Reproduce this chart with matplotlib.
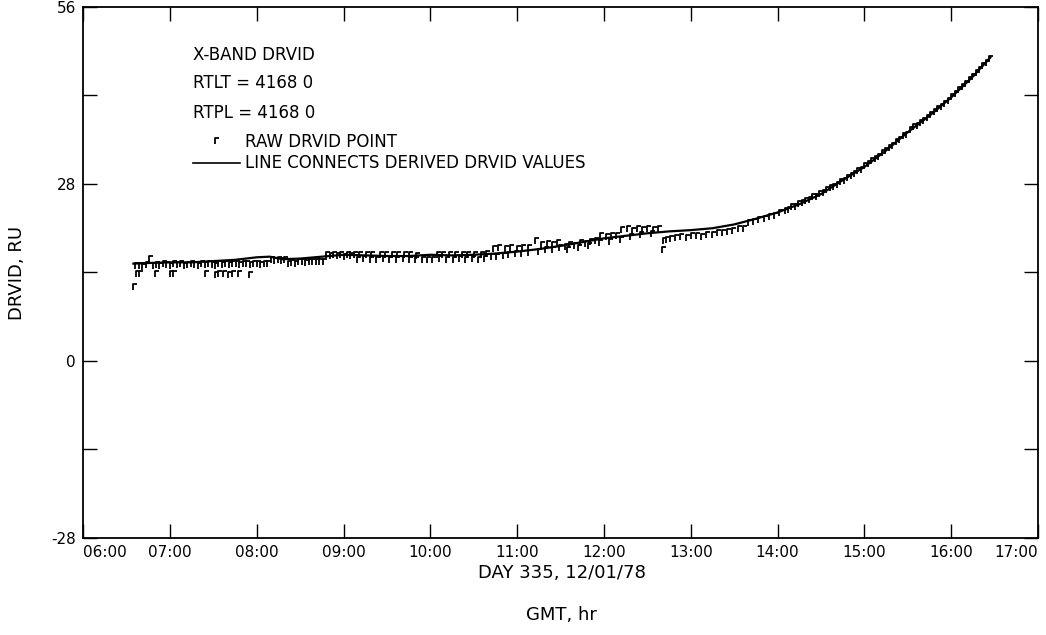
"""
X-band DRVID, day 335 (12/01/78)
"""
import matplotlib
matplotlib.use('Agg')
import matplotlib.pyplot as plt
from matplotlib.path import Path
import numpy as np

# derived DRVID line (GMT hours, RU)
line_hours = [6.58, 6.75, 7.00, 7.25, 7.50, 7.75, 8.00, 8.15, 8.30, 8.50, 8.75,
              9.00, 9.25, 9.50, 9.75, 10.00, 10.25, 10.50, 10.75, 11.00, 11.25,
              11.50, 11.75, 12.00, 12.25, 12.50, 12.75, 13.00, 13.25, 13.50,
              13.75, 14.00, 14.25, 14.50, 14.75, 15.00, 15.25, 15.50, 15.75,
              16.00, 16.25, 16.45]
line_drvid = [15.4, 15.5, 15.6, 15.6, 15.8, 16.0, 16.4, 16.5, 16.1, 16.2, 16.5,
              16.8, 16.7, 16.6, 16.6, 16.8, 16.7, 16.8, 17.0, 17.3, 17.7,
              18.2, 18.8, 19.4, 19.8, 20.2, 20.5, 20.7, 21.0, 21.6,
              22.5, 23.5, 24.8, 26.4, 28.6, 30.7, 33.3, 36.2, 38.8,
              41.7, 45.0, 48.0]

# raw DRVID points (GMT hours, RU)
raw_hours_a = [6.60, 6.64, 6.68, 6.72, 6.76, 6.80, 6.84, 6.88, 6.92, 6.96, 7.00, 7.04,
               7.08, 7.12, 7.16, 7.20, 7.24, 7.28, 7.32, 7.36, 7.40, 7.44, 7.48, 7.52,
               7.56, 7.60, 7.64, 7.68, 7.72, 7.76, 7.80, 7.84, 7.88, 7.92, 7.96, 8.00,
               8.04, 8.08, 8.12, 8.16, 8.20, 8.24, 8.28, 8.32, 8.36, 8.40, 8.44, 8.48,
               8.52, 8.56, 8.60, 8.64, 8.68, 8.72, 8.76, 8.80, 8.84, 8.88, 8.92, 8.96,
               9.00, 9.04, 9.08,
               6.61, 6.65, 6.83, 7.00, 7.04, 7.41, 7.52, 7.56, 7.61, 7.67, 7.72, 7.78,
               7.91, 6.58]
raw_drvid_a = [15.0, 15.1, 14.9, 15.2, 16.1, 15.1, 15.2, 15.0, 15.3, 15.2, 15.1, 15.3,
               15.2, 15.3, 15.1, 15.2, 15.3, 15.2, 15.1, 15.3, 15.2, 15.3, 15.2, 15.1,
               15.3, 15.2, 15.3, 15.2, 15.4, 15.3, 15.2, 15.3, 15.4, 15.2, 15.3, 15.4,
               15.2, 15.3, 15.4, 15.9, 15.8, 15.9, 15.8, 15.9, 15.4, 15.5, 15.4, 15.6,
               15.6, 15.5, 15.6, 15.7, 15.6, 15.7, 15.6, 16.7, 16.6, 16.8, 16.6, 16.7,
               16.5, 16.7, 16.6,
               13.7, 13.8, 13.7, 13.7, 13.8, 13.7, 13.6, 13.7, 13.7, 13.6, 13.7, 13.7,
               13.6, 11.7]

raw_hours_b = [9.12, 9.18, 9.26, 9.32, 9.42, 9.48, 9.56, 9.62, 9.70, 9.76, 9.84, 10.08,
               10.14, 10.22, 10.28, 10.36, 10.42, 10.50, 10.58, 10.64, 10.72, 10.78,
               10.86, 10.92, 11.00, 11.06, 11.12, 11.20, 11.28, 11.34, 11.40, 11.46,
               9.15, 9.22, 9.30, 9.38, 9.45, 9.52, 9.60, 9.68, 9.75, 9.82, 9.90, 9.96,
               10.02, 10.10, 10.18, 10.26, 10.33, 10.40, 10.48, 10.55, 10.62, 10.70,
               10.76, 10.84, 10.90, 10.98, 11.05, 11.12, 11.24, 11.32, 11.40, 11.48]
raw_drvid_b = [16.8, 16.7, 16.8, 16.7, 16.8, 16.7, 16.8, 16.8, 16.7, 16.8, 16.6, 16.7,
               16.8, 16.7, 16.8, 16.7, 16.8, 16.8, 16.7, 16.9, 17.7, 17.8,
               17.7, 17.8, 17.7, 17.9, 17.8, 19.0, 18.3, 18.5, 18.4, 18.6,
               16.0, 16.1, 15.9, 16.0, 16.1, 16.0, 15.9, 16.1, 16.0, 15.9, 16.0, 15.9,
               16.0, 16.1, 16.0, 15.9, 16.1, 16.0, 16.1, 16.0, 16.2, 16.4,
               16.5, 16.6, 16.8, 16.9, 17.0, 17.1, 17.3, 17.5, 17.6, 17.8]

raw_hours_c = [11.55, 11.60, 11.66, 11.72, 11.78, 11.84, 11.90, 11.96, 12.02, 12.08,
               12.14, 12.20, 12.26, 12.32, 12.38, 12.44, 12.50, 12.56, 12.62, 12.67,
               12.68, 12.72, 12.76, 12.82, 12.88, 12.94, 13.00, 13.06, 13.12, 13.18,
               13.24, 13.30, 13.36, 13.42, 13.48, 13.54, 13.60, 13.66, 13.72, 13.78,
               13.84, 13.90, 13.96, 14.02, 14.08,
               11.58, 11.70, 11.82, 11.94, 12.06, 12.18, 12.30, 12.42, 12.54]
raw_drvid_c = [18.0, 18.4, 18.2, 18.6, 18.5, 18.8, 19.0, 19.7, 19.6, 19.8,
               19.7, 20.7, 20.8, 20.6, 20.8, 20.7, 20.8, 20.7, 20.8, 17.6,
               19.0, 19.1, 19.3, 19.5, 19.6, 19.5, 19.7, 19.8, 19.6, 19.9,
               20.0, 20.3, 20.2, 20.4, 20.5, 20.8, 20.9, 21.8, 22.0, 22.3,
               22.5, 22.8, 23.0, 23.4, 23.7,
               17.6, 17.9, 18.2, 18.6, 18.9, 19.2, 19.6, 19.9, 20.1]

raw_hours_d = [14.12, 14.16, 14.20, 14.24, 14.28, 14.32, 14.36, 14.40, 14.44, 14.48,
               14.52, 14.56, 14.60, 14.64, 14.68, 14.72, 14.76, 14.80, 14.84, 14.88,
               14.92, 14.96, 15.00, 15.04, 15.08, 15.12, 15.16, 15.20, 15.24, 15.28,
               15.32, 15.36, 15.40, 15.44, 15.48, 15.52, 15.56, 15.60, 15.64, 15.68,
               15.72, 15.76, 15.80, 15.84, 15.88, 15.92, 15.96, 16.00, 16.04, 16.08,
               16.12, 16.16, 16.20, 16.24, 16.28, 16.32, 16.36, 16.40, 16.44]
raw_drvid_d = [23.9, 24.3, 24.4, 24.9, 25.0, 25.3, 25.5, 25.9, 26.0, 26.4,
               26.6, 27.0, 27.3, 27.6, 27.9, 28.3, 28.5, 29.0, 29.3, 29.6,
               30.0, 30.2, 30.8, 31.1, 31.6, 32.0, 32.3, 32.9, 33.2, 33.7,
               34.0, 34.6, 34.9, 35.6, 35.8, 36.5, 37.0, 37.2, 37.6, 37.9,
               38.5, 38.9, 39.4, 39.8, 40.2, 40.6, 41.1, 41.7, 42.3, 42.8,
               43.4, 43.8, 44.4, 44.9, 45.5, 46.0, 46.6, 47.2, 47.8]

raw_hours = raw_hours_a + raw_hours_b + raw_hours_c + raw_hours_d
raw_drvid = raw_drvid_a + raw_drvid_b + raw_drvid_c + raw_drvid_d

x_ticks = list(range(6, 18))
x_labels = ['06:00', '07:00', '08:00', '09:00', '10:00', '11:00', '12:00',
            '13:00', '14:00', '15:00', '16:00', '17:00']
y_ticks = [-28, -14, 0, 14, 28, 42, 56]
y_labels = ['-28', '', '0', '', '28', '', '56']

# small "r"-shaped marker used for raw points
corner = Path([(0, -1), (0, 1), (1.3, 1)], [Path.MOVETO, Path.LINETO, Path.LINETO])
mstyle = dict(marker=corner, markersize=5.5, markerfacecolor='none',
              markeredgecolor='black', markeredgewidth=1.3, linestyle='none')

fig = plt.figure(figsize=(10.46, 6.35), dpi=100, facecolor='white')
ax = fig.add_axes([0.0794, 0.1528, 0.9130, 0.8362])

ax.plot(raw_hours, raw_drvid, **mstyle)
ax.plot(line_hours, line_drvid, color='black', linewidth=1.6)

ax.set_xlim(6, 17)
ax.set_ylim(-28, 56)
ax.set_xticks(x_ticks)
ax.set_xticklabels(x_labels, fontsize=11)
ax.set_yticks(y_ticks)
ax.set_yticklabels(y_labels, fontsize=11)
ax.tick_params(direction='in', length=10, width=1, top=True, right=True, pad=5)
xt = ax.get_xticklabels()
xt[0].set_ha('left')
xt[-1].set_ha('right')
for s in ax.spines.values():
    s.set_linewidth(1.3)

ax.set_ylabel('DRVID, RU', fontsize=13, labelpad=18)
fig.text(0.537, 0.098, 'DAY 335, 12/01/78', fontsize=13, ha='center', va='center')
fig.text(0.537, 0.032, 'GMT, hr', fontsize=13, ha='center', va='center')

# legend block as plain text
fs = 12
ax.text(0.115, 0.910, 'X-BAND DRVID', transform=ax.transAxes, fontsize=fs, va='center')
ax.text(0.115, 0.857, 'RTLT = 4168 0', transform=ax.transAxes, fontsize=fs, va='center')
ax.text(0.115, 0.800, 'RTPL = 4168 0', transform=ax.transAxes, fontsize=fs, va='center')
ax.plot([0.138], [0.748], transform=ax.transAxes, **mstyle)
ax.text(0.170, 0.746, 'RAW DRVID POINT', transform=ax.transAxes, fontsize=fs, va='center')
ax.plot([0.115, 0.164], [0.706, 0.706], transform=ax.transAxes, color='black', linewidth=1.2)
ax.text(0.170, 0.706, 'LINE CONNECTS DERIVED DRVID VALUES', transform=ax.transAxes,
        fontsize=fs, va='center')

plt.savefig('out.png', dpi=100, facecolor='white')
plt.close()
